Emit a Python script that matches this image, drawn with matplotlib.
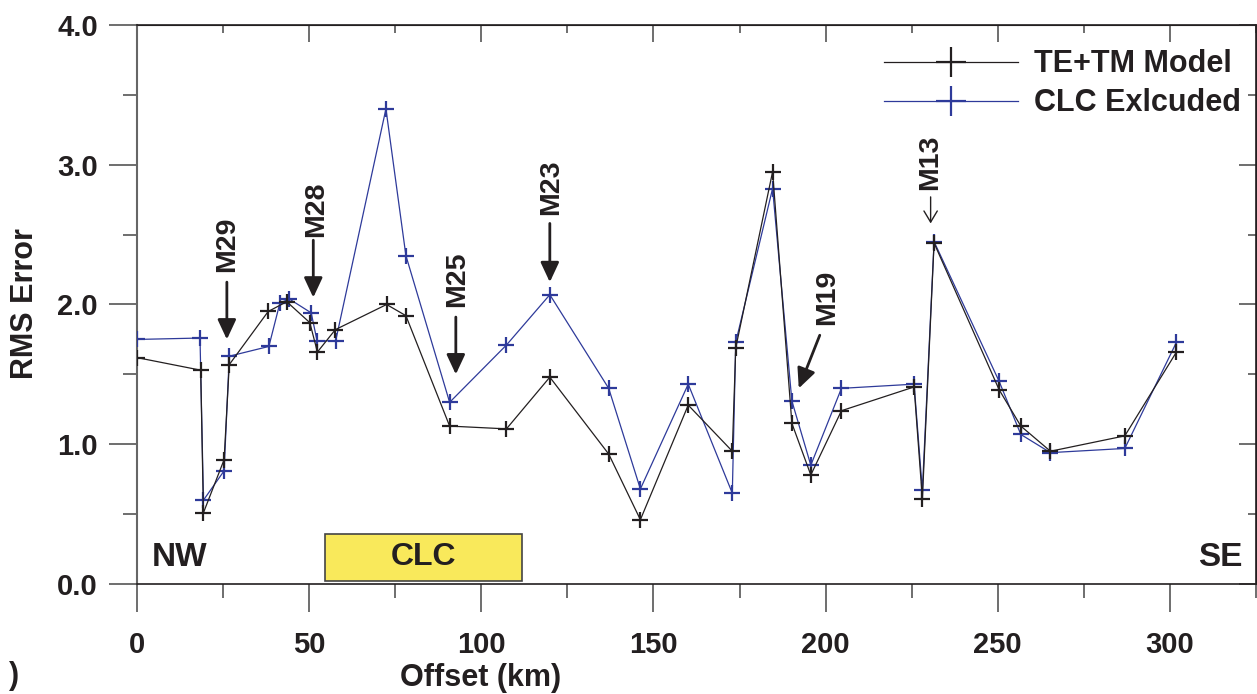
import matplotlib
matplotlib.use("Agg")
import matplotlib.pyplot as plt
from matplotlib.patches import Rectangle
from matplotlib.ticker import MultipleLocator, FormatStrFormatter

plt.rcParams["font.family"] = ["Liberation Sans", "DejaVu Sans"]
plt.rcParams["font.weight"] = "bold"

# TE+TM model, RMS error along profile
offset_te = [0, 18.5, 19.3, 25.3, 26.8, 38.1, 43.5, 50.2, 52.4, 57.6, 72.5, 78.1,
             90.8, 107.3, 119.9, 137.0, 146.2, 160.1, 172.9, 173.9, 184.6, 190.2,
             195.7, 204.6, 225.7, 228.1, 231.5, 250.4, 256.7, 265.3, 286.9, 301.9]
rms_te = [1.62, 1.53, 0.51, 0.89, 1.57, 1.95, 2.02, 1.87, 1.66, 1.82, 2.00, 1.92,
          1.13, 1.11, 1.48, 0.93, 0.46, 1.28, 0.95, 1.69, 2.95, 1.15,
          0.78, 1.24, 1.41, 0.61, 2.44, 1.39, 1.13, 0.95, 1.06, 1.66]

# CLC excluded
offset_clc = [0, 18.3, 19.3, 25.3, 26.8, 38.3, 41.5, 44.2, 50.6, 52.3, 57.7, 72.3, 78.1,
              90.8, 107.3, 119.9, 137.0, 146.2, 160.1, 172.9, 173.9, 184.6, 190.2,
              195.7, 204.6, 225.7, 228.1, 231.5, 250.4, 256.7, 265.3, 286.9, 301.9]
rms_clc = [1.75, 1.76, 0.60, 0.81, 1.63, 1.70, 2.01, 2.04, 1.94, 1.74, 1.74, 3.40, 2.35,
           1.30, 1.71, 2.07, 1.40, 0.68, 1.43, 0.65, 1.73, 2.83, 1.31,
           0.85, 1.40, 1.43, 0.67, 2.45, 1.45, 1.07, 0.94, 0.97, 1.73]

# site labels: name, text position, arrow tail, arrow head
sites = [
    ("M29", (26.1, 2.43), (26.1, 2.16), (26.1, 1.75)),
    ("M28", (52.0, 2.68), (51.2, 2.46), (51.2, 2.05)),
    ("M25", (92.9, 2.18), (92.6, 1.91), (92.6, 1.50)),
    ("M23", (120.4, 2.84), (119.9, 2.58), (119.9, 2.16)),
    ("M19", (200.3, 2.05), (198.3, 1.78), (192.2, 1.40)),
]
m13 = ("M13", (230.3, 3.02), (230.5, 2.77), (230.5, 2.58))

clc_zone = (54.6, 111.8)

fig = plt.figure(figsize=(12.57, 6.94), dpi=100)
ax = fig.add_axes([0.10899, 0.15850, 0.89021, 0.80548])

black = "#231f20"
blue = "#2e3a9a"

ax.plot(offset_te, rms_te, color=black, lw=0.9, marker="+", ms=12, mew=1.6,
        label="TE+TM Model", zorder=4)
ax.plot(offset_clc, rms_clc, color=blue, lw=0.9, marker="+", ms=12, mew=1.6,
        label="CLC Exlcuded", zorder=3)

ax.set_xlim(0, 325)
ax.set_ylim(0, 4)
ax.xaxis.set_major_locator(MultipleLocator(50))
ax.xaxis.set_minor_locator(MultipleLocator(25))
ax.yaxis.set_major_locator(MultipleLocator(1))
ax.yaxis.set_minor_locator(MultipleLocator(0.5))
ax.yaxis.set_major_formatter(FormatStrFormatter("%.1f"))

ax.tick_params(axis="both", which="major", direction="out", length=20, width=1.2,
               color="#555555", labelsize=21, top=False, right=False)
ax.tick_params(axis="both", which="minor", direction="out", length=10, width=1.2,
               color="#555555", top=False, right=False)
ax.tick_params(axis="x", which="major", pad=14)
ax.tick_params(axis="y", which="major", pad=8)
for lab in ax.get_xticklabels() + ax.get_yticklabels():
    lab.set_fontweight("bold")
    lab.set_color(black)

for side in ["top", "right", "bottom"]:
    ax.spines[side].set_color(black)
    ax.spines[side].set_linewidth(1.2)
ax.spines["left"].set_color("#666666")
ax.spines["left"].set_linewidth(1.5)

# inward ticks on top and right
top = ax.secondary_xaxis("top")
top.xaxis.set_major_locator(MultipleLocator(50))
top.xaxis.set_minor_locator(MultipleLocator(25))
top.tick_params(which="major", direction="in", length=12, width=1.2, color="#555555",
                labeltop=False)
top.tick_params(which="minor", direction="in", length=6, width=1.2, color="#555555")
top.spines["top"].set_color(black)
right = ax.secondary_yaxis("right")
right.yaxis.set_major_locator(MultipleLocator(1))
right.yaxis.set_minor_locator(MultipleLocator(0.5))
right.tick_params(which="major", direction="in", length=12, width=1.2, color="#555555",
                  labelright=False)
right.tick_params(which="minor", direction="in", length=6, width=1.2, color="#555555")
right.spines["right"].set_color(black)

# CLC box and end labels
ax.add_patch(Rectangle((clc_zone[0], 0.02), clc_zone[1] - clc_zone[0], 0.34,
                       facecolor="#f9e95b", edgecolor="#444444", lw=1.2, zorder=2))
ax.text(sum(clc_zone) / 2, 0.19, "CLC", fontsize=23, fontweight="bold",
        ha="center", va="center", color=black)
ax.text(4.3, 0.19, "NW", fontsize=24, fontweight="bold",
        ha="left", va="center", color=black)
ax.text(321, 0.19, "SE", fontsize=24, fontweight="bold",
        ha="right", va="center", color=black)

for name, txt, tail, head in sites:
    ax.text(txt[0], txt[1], name, rotation=90, fontsize=20.5, fontweight="bold",
            ha="center", va="center", color=black)
    ax.annotate("", xy=head, xytext=tail,
                arrowprops=dict(arrowstyle="-|>,head_length=0.6,head_width=0.28",
                                mutation_scale=20, lw=2, color=black,
                                shrinkA=0, shrinkB=0))
name, txt, tail, head = m13
ax.text(txt[0], txt[1], name, rotation=90, fontsize=20.5, fontweight="bold",
        ha="center", va="center", color=black)
ax.annotate("", xy=head, xytext=tail,
            arrowprops=dict(arrowstyle="->,head_length=0.5,head_width=0.3",
                            mutation_scale=16, lw=1.0, color=black,
                            shrinkA=0, shrinkB=0))

leg = ax.legend(loc="upper left", bbox_to_anchor=(0.7033, 0.929),
                bbox_transform=fig.transFigure, frameon=False, fontsize=22,
                handlelength=4.4, handletextpad=0.5, labelspacing=0.3,
                borderpad=0, borderaxespad=0, markerscale=1.8)
for t in leg.get_texts():
    t.set_fontweight("bold")
    t.set_color(black)

fig.text(25 / 1257, 1 - 304 / 694, "RMS Error", rotation=90, fontsize=22,
         fontweight="bold", ha="center", va="center", color=black)
fig.text(481 / 1257, 1 - 678 / 694, "Offset (km)", fontsize=22,
         fontweight="bold", ha="center", va="center", color=black)
fig.text(14 / 1257, 1 - 676 / 694, ")", fontsize=22, fontweight="bold",
         ha="center", va="center", color=black)

fig.savefig("out.png", dpi=100)
